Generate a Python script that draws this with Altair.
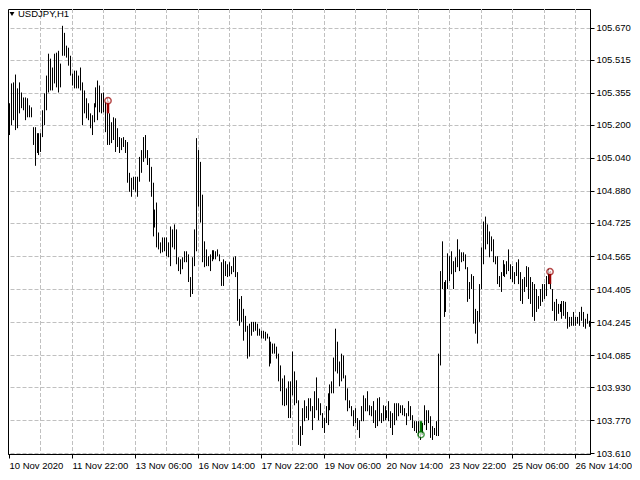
import altair as alt
import pandas as pd

TITLE = "USDJPY,H1"

HIGH = [
    105.305, 105.401, 105.406, 105.444, 105.377, 105.406, 105.357, 105.333, 105.333, 105.329,
    105.295, 105.285, 105.189, 105.189, 105.160, 105.160, 105.160, 105.271, 105.353, 105.439,
    105.545, 105.521, 105.478, 105.545, 105.550, 105.559, 105.497, 105.680, 105.646, 105.584,
    105.574, 105.535, 105.449, 105.463, 105.463, 105.439, 105.478, 105.406, 105.367, 105.329,
    105.305, 105.256, 105.247, 105.305, 105.382, 105.415, 105.391, 105.353, 105.357, 105.309,
    105.329, 105.256, 105.213, 105.237, 105.232, 105.184, 105.141, 105.136, 105.141, 105.127,
    105.117, 104.968, 104.944, 104.949, 104.949, 104.949, 105.045, 105.078, 105.141, 105.151,
    105.078, 105.040, 104.997, 104.920, 104.790, 104.824, 104.679, 104.631, 104.655, 104.655,
    104.655, 104.631, 104.708, 104.694, 104.718, 104.694, 104.559, 104.549, 104.559, 104.588,
    104.588, 104.573, 104.463, 104.559, 104.694, 105.136, 105.078, 105.021, 104.862, 104.636,
    104.597, 104.564, 104.573, 104.593, 104.593, 104.588, 104.597, 104.573, 104.535, 104.549,
    104.540, 104.525, 104.535, 104.516, 104.559, 104.564, 104.487, 104.357, 104.371, 104.309,
    104.275, 104.227, 104.237, 104.246, 104.246, 104.246, 104.237, 104.213, 104.203, 104.203,
    104.198, 104.189, 104.174, 104.150, 104.141, 104.141, 104.126, 104.092, 104.035, 103.972,
    103.987, 103.924, 103.958, 103.958, 104.102, 104.006, 103.963, 103.866, 103.741, 103.828,
    103.866, 103.838, 103.876, 103.876, 103.838, 103.910, 103.977, 103.876, 103.852, 103.804,
    103.780, 103.838, 103.900, 103.943, 103.958, 104.073, 104.213, 104.150, 104.054, 104.092,
    104.083, 103.987, 103.924, 103.866, 103.838, 103.818, 103.828, 103.780, 103.770, 103.838,
    103.890, 103.876, 103.910, 103.842, 103.838, 103.862, 103.818, 103.876, 103.881, 103.804,
    103.842, 103.838, 103.818, 103.862, 103.813, 103.804, 103.852, 103.852, 103.852, 103.842,
    103.842, 103.828, 103.804, 103.862, 103.838, 103.794, 103.765, 103.765, 103.765, 103.746,
    103.756, 103.842, 103.818, 103.818, 103.789, 103.741, 103.732, 103.765, 104.092, 104.492,
    104.636, 104.439, 104.448, 104.578, 104.564, 104.588, 104.540, 104.559, 104.646, 104.597,
    104.583, 104.583, 104.573, 104.511, 104.439, 104.477, 104.468, 104.309, 104.299, 104.429,
    104.607, 104.732, 104.756, 104.718, 104.684, 104.660, 104.646, 104.564, 104.564, 104.468,
    104.487, 104.545, 104.525, 104.540, 104.597, 104.525, 104.516, 104.487, 104.535, 104.549,
    104.487, 104.453, 104.463, 104.516, 104.511, 104.463, 104.439, 104.429, 104.405, 104.371,
    104.405, 104.429, 104.429, 104.468, 104.501, 104.492, 104.405, 104.343, 104.357, 104.333,
    104.333, 104.347, 104.347, 104.343, 104.294, 104.270, 104.270, 104.294, 104.270, 104.270,
    104.294, 104.319, 104.294, 104.261, 104.285, 104.251,
]

LOW = [
    105.151, 105.199, 105.223, 105.175, 105.184, 105.256, 105.281, 105.271, 105.223, 105.237,
    105.237, 105.237, 105.103, 105.002, 105.064, 105.054, 105.069, 105.141, 105.199, 105.271,
    105.357, 105.367, 105.367, 105.401, 105.382, 105.357, 105.382, 105.535, 105.535, 105.526,
    105.487, 105.439, 105.391, 105.377, 105.377, 105.377, 105.367, 105.199, 105.256, 105.232,
    105.223, 105.184, 105.151, 105.213, 105.285, 105.223, 105.261, 105.256, 105.261, 105.165,
    105.103, 105.103, 105.112, 105.127, 105.069, 105.093, 105.064, 105.078, 105.093, 105.064,
    104.920, 104.876, 104.852, 104.886, 104.876, 104.852, 104.925, 104.968, 105.021, 105.040,
    105.006, 104.925, 104.852, 104.660, 104.703, 104.607, 104.597, 104.578, 104.583, 104.588,
    104.564, 104.559, 104.516, 104.607, 104.597, 104.525, 104.492, 104.477, 104.501, 104.535,
    104.535, 104.439, 104.367, 104.381, 104.516, 104.588, 104.804, 104.727, 104.535, 104.511,
    104.516, 104.516, 104.492, 104.540, 104.549, 104.549, 104.564, 104.540, 104.420, 104.420,
    104.468, 104.463, 104.468, 104.477, 104.487, 104.463, 104.251, 104.227, 104.246, 104.155,
    104.198, 104.068, 104.078, 104.179, 104.198, 104.203, 104.179, 104.179, 104.165, 104.165,
    104.155, 104.165, 104.030, 104.044, 104.092, 104.092, 104.068, 103.958, 103.910, 103.842,
    103.838, 103.842, 103.780, 103.780, 103.890, 103.842, 103.852, 103.650, 103.645, 103.698,
    103.765, 103.780, 103.770, 103.813, 103.722, 103.780, 103.818, 103.770, 103.794, 103.732,
    103.708, 103.756, 103.746, 103.818, 103.900, 103.900, 104.006, 103.996, 103.934, 103.958,
    103.972, 103.866, 103.813, 103.828, 103.789, 103.741, 103.756, 103.722, 103.684, 103.765,
    103.765, 103.813, 103.813, 103.794, 103.789, 103.756, 103.732, 103.741, 103.765, 103.756,
    103.765, 103.770, 103.780, 103.765, 103.732, 103.698, 103.746, 103.770, 103.789, 103.804,
    103.794, 103.789, 103.746, 103.789, 103.770, 103.732, 103.717, 103.708, 103.693, 103.674,
    103.698, 103.746, 103.722, 103.756, 103.684, 103.674, 103.698, 103.693, 103.693, 104.035,
    104.405, 104.270, 104.294, 104.405, 104.444, 104.477, 104.405, 104.487, 104.511, 104.492,
    104.535, 104.540, 104.501, 104.343, 104.357, 104.405, 104.237, 104.189, 104.141, 104.246,
    104.405, 104.525, 104.597, 104.622, 104.559, 104.588, 104.535, 104.525, 104.429, 104.415,
    104.391, 104.468, 104.463, 104.477, 104.492, 104.453, 104.439, 104.429, 104.468, 104.429,
    104.347, 104.333, 104.391, 104.415, 104.357, 104.333, 104.270, 104.251, 104.294, 104.309,
    104.323, 104.343, 104.357, 104.371, 104.429, 104.405, 104.299, 104.251, 104.251, 104.285,
    104.294, 104.261, 104.275, 104.261, 104.213, 104.222, 104.227, 104.227, 104.227, 104.237,
    104.227, 104.251, 104.222, 104.213, 104.237, 104.222,
]

BAR = list(range(len(HIGH)))

XTICK_BARS = [0, 32, 64, 96, 128, 160, 192, 224, 256, 288]
XTICK_LABELS = ["10 Nov 2020", "11 Nov 22:00", "13 Nov 06:00", "16 Nov 14:00",
                "17 Nov 22:00", "19 Nov 06:00", "20 Nov 14:00", "23 Nov 22:00",
                "25 Nov 06:00", "26 Nov 14:00"]
XGRID_BARS = [16, 32, 48, 64, 80, 96, 112, 128, 144, 160, 176, 192, 208, 224,
              240, 256, 272, 288]
YTICKS = [105.670, 105.515, 105.355, 105.200, 105.040, 104.880, 104.725,
          104.565, 104.405, 104.245, 104.085, 103.930, 103.770, 103.610]

MARKER_BAR = [50.5, 209.5, 275]
MARKER_RING = [105.317, 103.700, 104.489]
MARKER_STEM_END = [105.256, 103.765, 104.429]
MARKER_KIND = ["sell", "buy", "sell"]

bars = pd.DataFrame({"bar": BAR, "high": HIGH, "low": LOW})
grid = pd.DataFrame({"g": XGRID_BARS})
marks = pd.DataFrame({"bar": MARKER_BAR, "ring": MARKER_RING,
                      "stem": MARKER_STEM_END, "kind": MARKER_KIND})
title_df = pd.DataFrame({"t": [TITLE]})

xscale = alt.Scale(domain=[-0.5, len(HIGH) - 0.5], nice=False, zero=False, round=True)
yscale = alt.Scale(domain=[103.606, 105.7615], nice=False, zero=False)
colscale = alt.Scale(domain=["sell", "buy"], range=["#990000", "#007700"])

label_arr = "[" + ",".join("'" + s + "'" for s in XTICK_LABELS) + "]"

XAX = alt.Axis(values=XTICK_BARS, labelExpr=label_arr + "[round(datum.value/32)]",
               labelAlign="left", tickSize=4, labelPadding=2, grid=False,
               title=None, labelOverlap=False, labelFlush=False)
YAX = alt.Axis(orient="right", values=YTICKS, format=".3f", tickSize=4,
               labelPadding=2, grid=True, title=None)

grid_layer = alt.Chart(grid).mark_rule(color="#c0c0c0", strokeDash=[4, 2], strokeWidth=1,
                                       xOffset=0.5).encode(
    x=alt.X("g:Q", scale=xscale, axis=XAX)
)

bar_layer = alt.Chart(bars).mark_rule(color="black", strokeWidth=1, xOffset=0.5).encode(
    x=alt.X("bar:Q", scale=xscale, axis=XAX),
    y=alt.Y("high:Q", scale=yscale, axis=YAX),
    y2="low:Q",
)

stem_layer = alt.Chart(marks).mark_rule(strokeWidth=2.5).encode(
    x=alt.X("bar:Q", scale=xscale, axis=XAX),
    y=alt.Y("ring:Q", scale=yscale, axis=YAX),
    y2="stem:Q",
    color=alt.Color("kind:N", scale=colscale, legend=None),
)

ring_layer = alt.Chart(marks).mark_point(shape="circle", filled=True, size=40, strokeWidth=1.5).encode(
    x=alt.X("bar:Q", scale=xscale, axis=XAX),
    y=alt.Y("ring:Q", scale=yscale, axis=YAX),
    fill=alt.value("white"),
    stroke=alt.Color("kind:N", scale=colscale, legend=None),
)

tri_layer = alt.Chart(title_df).mark_point(shape="triangle-down", filled=True, color="black",
                                           size=24, opacity=1).encode(
    x=alt.value(4), y=alt.value(5)
)
title_layer = alt.Chart(title_df).mark_text(align="left", baseline="middle", font="Liberation Sans",
                                            fontSize=9.5, color="black").encode(
    text="t:N", x=alt.value(10), y=alt.value(5)
)

chart = alt.layer(grid_layer, bar_layer, stem_layer, ring_layer, tri_layer, title_layer).properties(
    width=582, height=445, padding=0, background="white"
).configure_view(stroke="black", strokeWidth=1).configure_axis(
    domainColor="black", tickColor="black", labelColor="black",
    labelFont="Liberation Sans", labelFontSize=9.5,
    gridColor="#c0c0c0", gridDash=[4, 2], gridWidth=1,
)

chart.save("out.html", embed_options={"renderer": "svg", "actions": False})
